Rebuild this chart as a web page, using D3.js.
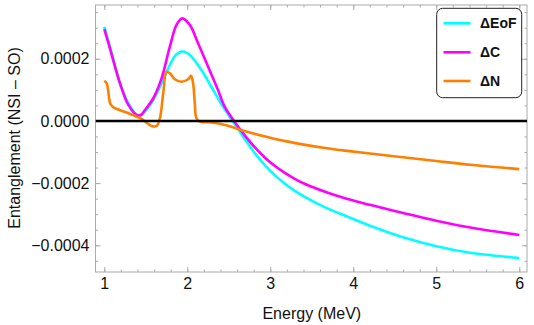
<!DOCTYPE html>
<html>
<head>
<meta charset="utf-8">
<script src="https://cdn.jsdelivr.net/npm/d3@7"></script>
<style>
  body { margin: 0; background: #fff; }
  svg { display: block; font-family: "Liberation Sans", Arial, sans-serif; }
</style>
</head>
<body>
<svg id="chart" width="534" height="325"></svg>
<script>
// values
const energyEoF = [1.0, 1.05, 1.09, 1.19, 1.29, 1.39, 1.44, 1.49, 1.59, 1.69, 1.79, 1.86, 1.93, 1.99, 2.05, 2.17, 2.29, 2.43, 2.578, 2.70, 2.82, 2.94, 3.06, 3.18, 3.30, 3.42, 3.66, 3.90, 4.2, 4.6, 5.0, 5.41, 6.0];
const deltaEoF = [3.03e-4, 2.55e-4, 2.18e-4, 1.21e-4, 5.7e-5, 1.93e-5, 1.8e-5, 3.0e-5, 6.75e-5, 1.21e-4, 1.8e-4, 2.12e-4, 2.23e-4, 2.2e-4, 2.07e-4, 1.64e-4, 1.1e-4, 4.6e-5, -1.3e-5, -6.1e-5, -1.06e-4, -1.44e-4, -1.76e-4, -2.03e-4, -2.26e-4, -2.45e-4, -2.78e-4, -3.05e-4, -3.37e-4, -3.74e-4, -4.03e-4, -4.24e-4, -4.41e-4];

const energyC = [1.0, 1.05, 1.09, 1.19, 1.29, 1.39, 1.44, 1.49, 1.59, 1.69, 1.79, 1.87, 1.94, 2.03, 2.13, 2.25, 2.37, 2.45, 2.578, 2.70, 2.82, 2.94, 3.06, 3.18, 3.30, 3.42, 3.66, 3.90, 4.2, 4.6, 5.0, 5.41, 6.0];
const deltaC = [2.95e-4, 2.5e-4, 2.12e-4, 1.2e-4, 5.14e-5, 1.93e-5, 1.9e-5, 3.54e-5, 7.3e-5, 1.37e-4, 2.39e-4, 3.09e-4, 3.3e-4, 3.09e-4, 2.5e-4, 1.75e-4, 9.97e-5, 4.6e-5, -6e-6, -4.9e-5, -8.7e-5, -1.19e-4, -1.46e-4, -1.68e-4, -1.87e-4, -2.03e-4, -2.28e-4, -2.49e-4, -2.7e-4, -2.96e-4, -3.21e-4, -3.43e-4, -3.67e-4];

const energyN = [1.0, 1.03, 1.05, 1.07, 1.10, 1.13, 1.29, 1.45, 1.57, 1.63, 1.67, 1.71, 1.75, 1.79, 1.85, 1.93, 2.01, 2.045, 2.07, 2.09, 2.11, 2.15, 2.29, 2.455, 2.70, 2.94, 3.18, 3.42, 3.66, 3.90, 4.2, 4.6, 5.0, 5.41, 6.0];
const deltaN = [1.29e-4, 1.21e-4, 9.0e-5, 5.7e-5, 4.6e-5, 4.08e-5, 2.47e-5, 6.4e-6, -1.6e-5, -1.6e-5, 8.7e-6, 8.9e-5, 1.58e-4, 1.53e-4, 1.34e-4, 1.26e-4, 1.34e-4, 1.45e-4, 1.21e-4, 5.7e-5, 8.7e-6, -2e-6, -5e-6, -1.3e-5, -3.3e-5, -5.0e-5, -6.5e-5, -7.7e-5, -8.7e-5, -9.55e-5, -1.05e-4, -1.17e-4, -1.29e-4, -1.41e-4, -1.55e-4];

const seriesNames = ["ΔEoF", "ΔC", "ΔN"];
const xTicks = [1, 2, 3, 4, 5, 6];
const yTicks = [-0.0004, -0.0002, 0, 0.0002];

const colors = {};
colors["ΔEoF"] = "#00FFFF";
colors["ΔC"] = "#FF00FF";
colors["ΔN"] = "#FF8000";

const svg = d3.select("#chart");
const plotLeft = 95.5, plotRight = 527, plotTop = 5, plotBottom = 272;

const x = d3.scaleLinear().domain([0.894, 6.093]).range([plotLeft, plotRight]);
const y = d3.scaleLinear().domain([-0.000486, 0.000373]).range([plotBottom, plotTop]);

const xMinor = d3.range(0.8, 6.2001, 0.2).filter(v => v > 0.894 && v < 6.093);
const yMinor = d3.range(-0.00045, 0.00036, 0.00005).filter(v => v > -0.000486 && v < 0.000373);

const frameColor = "#aaaaaa";

// ticks on all four sides, pointing in
function tickAxis(axisFn, scale, vals, size, labels, transform) {
    const a = axisFn(scale).tickValues(vals).tickSize(-size).tickPadding(6);
    if (labels) a.tickFormat(labels); else a.tickFormat("");
    const g = svg.append("g").attr("transform", transform).call(a);
    g.select(".domain").remove();
    g.selectAll(".tick line").attr("stroke", frameColor);
    g.selectAll(".tick text").attr("fill", "#111").attr("font-size", "16px")
        .attr("font-family", "Liberation Sans, Arial, sans-serif");
    return g;
}

tickAxis(d3.axisBottom, x, xMinor, 2.5, null, "translate(0," + plotBottom + ")");
tickAxis(d3.axisTop, x, xMinor, 2.5, null, "translate(0," + plotTop + ")");
tickAxis(d3.axisLeft, y, yMinor, 2.5, null, "translate(" + plotLeft + ",0)");
tickAxis(d3.axisRight, y, yMinor, 2.5, null, "translate(" + plotRight + ",0)");
tickAxis(d3.axisBottom, x, xTicks, 5, d3.format("d"), "translate(0," + plotBottom + ")");
tickAxis(d3.axisTop, x, xTicks, 5, null, "translate(0," + plotTop + ")");
tickAxis(d3.axisLeft, y, yTicks, 5, d3.format(".4f"), "translate(" + plotLeft + ",0)");
tickAxis(d3.axisRight, y, yTicks, 5, null, "translate(" + plotRight + ",0)");

svg.append("rect")
    .attr("x", plotLeft).attr("y", plotTop)
    .attr("width", plotRight - plotLeft).attr("height", plotBottom - plotTop)
    .attr("fill", "none").attr("stroke", frameColor).attr("stroke-width", 1);

svg.append("clipPath").attr("id", "clip").append("rect")
    .attr("x", plotLeft).attr("y", plotTop).attr("width", plotRight - plotLeft).attr("height", plotBottom - plotTop);

const line = d3.line()
    .x(d => x(d[0]))
    .y(d => y(d[1]))
    .curve(d3.curveCatmullRom.alpha(0.5));

const series = [
    [seriesNames[0], d3.zip(energyEoF, deltaEoF)],
    [seriesNames[1], d3.zip(energyC, deltaC)],
    [seriesNames[2], d3.zip(energyN, deltaN)]
];

const plot = svg.append("g").attr("clip-path", "url(#clip)");
series.forEach(([name, pts]) => {
    plot.append("path")
        .attr("d", line(pts))
        .attr("fill", "none")
        .attr("stroke", colors[name])
        .attr("stroke-width", 2.6)
        .attr("stroke-linejoin", "round");
});

// zero line
plot.append("line")
    .attr("x1", plotLeft).attr("x2", plotRight)
    .attr("y1", y(0)).attr("y2", y(0))
    .attr("stroke", "#000").attr("stroke-width", 2.6);

// axis titles
svg.append("text").text("Energy (MeV)")
    .attr("x", (x(1) + x(6)) / 2).attr("y", 318.5)
    .attr("text-anchor", "middle").attr("font-size", "16px").attr("fill", "#111");

svg.append("text").text("Entanglement (NSI – SO)")
    .attr("transform", "translate(19.5," + 138 + ") rotate(-90)")
    .attr("text-anchor", "middle").attr("font-size", "16px").attr("fill", "#111");

// legend
const legend = svg.append("g");
legend.append("rect")
    .attr("x", 436.7).attr("y", 8.3).attr("width", 85).attr("height", 89.4)
    .attr("rx", 6).attr("fill", "#fff").attr("stroke", "#222").attr("stroke-width", 1);
const legendY = [23.3, 52.3, 81];
seriesNames.forEach((name, i) => {
    legend.append("line")
        .attr("x1", 443.5).attr("x2", 470.5)
        .attr("y1", legendY[i]).attr("y2", legendY[i])
        .attr("stroke", colors[name]).attr("stroke-width", 2.6);
    legend.append("text").text(name)
        .attr("x", 480).attr("y", legendY[i] + 5)
        .attr("font-size", "14px").attr("font-weight", "bold").attr("fill", "#111");
});
</script>
</body>
</html>
